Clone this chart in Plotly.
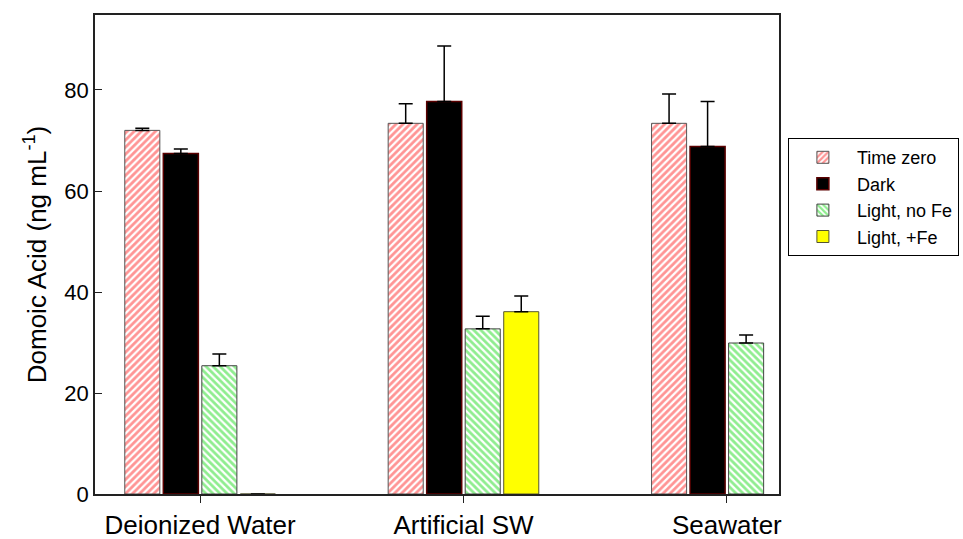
import plotly.graph_objects as go

# Sample matrices on the x axis
categories = ["Deionized Water", "Artificial SW", "Seawater"]

# Domoic acid concentration (ng/mL) and upper error for each treatment
time_zero = [72.0, 73.4, 73.4]
time_zero_err = [0.4, 3.9, 5.8]

dark = [67.4, 77.7, 68.8]
dark_err = [0.9, 11.0, 8.9]

light_no_fe = [25.4, 32.7, 29.9]
light_no_fe_err = [2.3, 2.5, 1.6]

light_fe = [0.0, 36.1, None]
light_fe_err = [None, 3.1, None]

series = [
    ("Time zero", time_zero, time_zero_err,
     dict(color="white", line=dict(color="#555555", width=1),
          pattern=dict(shape="/", fgcolor="#ff2a2a", bgcolor="white", size=5, solidity=0.55))),
    ("Dark", dark, dark_err,
     dict(color="black", line=dict(color="#5a0000", width=1.5))),
    ("Light, no Fe", light_no_fe, light_no_fe_err,
     dict(color="white", line=dict(color="#444444", width=1),
          pattern=dict(shape="\\", fgcolor="#1fdc1f", bgcolor="white", size=5, solidity=0.55))),
    ("Light, +Fe", light_fe, light_fe_err,
     dict(color="#ffff00", line=dict(color="#555533", width=1))),
]

fig = go.Figure()
for name, vals, errs, marker in series:
    fig.add_trace(go.Bar(
        name=name,
        x=categories,
        y=vals,
        marker=marker,
        error_y=dict(type="data", array=errs, arrayminus=[0] * len(errs),
                     symmetric=False, color="black", thickness=1.5, width=7),
    ))

font_family = "Liberation Sans, Arial, sans-serif"

fig.update_layout(
    width=963, height=539,
    margin=dict(l=95, r=184, t=15, b=45, autoexpand=False),
    paper_bgcolor="white",
    plot_bgcolor="white",
    barmode="group",
    bargap=0.415,
    bargroupgap=0.09,
    font=dict(family=font_family, color="black"),
    legend=dict(
        x=1.013, y=0.743, xanchor="left", yanchor="top",
        bgcolor="white", bordercolor="black", borderwidth=1,
        font=dict(size=18, family=font_family),
        itemwidth=58, tracegroupgap=0,
    ),
    showlegend=True,
)

fig.update_xaxes(
    range=[-0.399, 2.198],
    showline=True, linecolor="#222222", linewidth=1.5, mirror=True,
    ticks="outside", ticklen=7, tickcolor="#222222",
    tickfont=dict(size=26, family=font_family),
    showgrid=False, zeroline=False, automargin=False,
)

fig.update_yaxes(
    range=[0, 94.85],
    tickvals=[0, 20, 40, 60, 80],
    showline=True, linecolor="#222222", linewidth=1.5, mirror=True,
    ticks="inside", ticklen=7, tickcolor="#222222",
    tickfont=dict(size=22, family=font_family),
    showgrid=False, zeroline=False, automargin=False,
    title=dict(text="Domoic Acid (ng mL<sup>-1</sup>)",
               font=dict(size=26, family=font_family), standoff=10),
)

fig.write_html("out.html")
